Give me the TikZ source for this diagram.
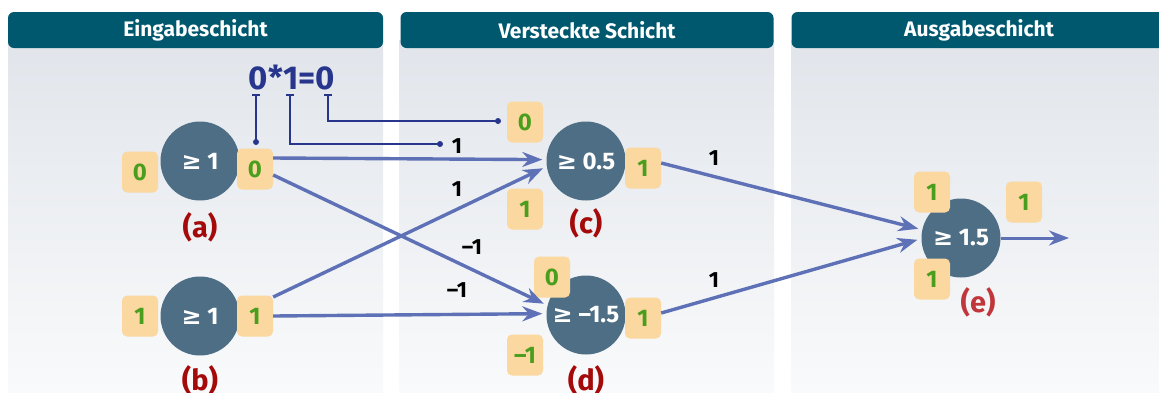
\documentclass[tikz,border=0pt]{standalone}
\usepackage{fontspec}
\setmainfont{Fira Sans}
\newfontfamily\symf{DejaVu Sans}
\usetikzlibrary{arrows.meta,calc}
\definecolor{hdr}{HTML}{00586F}
\definecolor{bgtop}{HTML}{E1E5EB}
\definecolor{bgbot}{HTML}{F9FAFB}
\definecolor{neuron}{HTML}{4E6E86}
\definecolor{valbox}{HTML}{FBD89F}
\definecolor{valtxt}{HTML}{4A9E1E}
\definecolor{wire}{HTML}{5E70B6}
\definecolor{lbl}{HTML}{A50A0A}
\definecolor{lble}{HTML}{C0363A}
\definecolor{anno}{HTML}{27368C}
\newcommand{\gteq}{{\symf ≥}}
\tikzset{
  panel/.style={top color=bgtop, bottom color=bgbot, draw=none},
  header/.style={fill=hdr, rounded corners=6pt, text=white, inner sep=0pt,
    minimum height=36pt, font=\fontsize{21}{23}\selectfont\bfseries},
  neuronc/.style={circle, fill=neuron, minimum size=79pt, inner sep=0pt, text=white,
    font=\fontsize{24}{26}\selectfont\bfseries},
  valb/.style={fill=valbox, rounded corners=5pt, minimum width=36pt, minimum height=41pt,
    inner sep=0pt, text=valtxt, font=\fontsize{24}{26}\selectfont\bfseries},
  wt/.style={text=black, font=\fontsize{22}{24}\selectfont\bfseries},
  lab/.style={text=lbl, font=\fontsize{29}{31}\selectfont\bfseries},
  labe/.style={text=lble, font=\fontsize{29}{31}\selectfont\bfseries},
  conn/.style={wire, line width=3.4pt, -{Stealth[length=20pt, width=15pt]}, shorten >=4pt},
  anno line/.style={anno, line width=1.3pt},
  anno dot/.style={circle, fill=anno, inner sep=0pt, minimum size=6pt},
}
\begin{document}
\begin{tikzpicture}[x=1pt,y=-1pt]
\useasboundingbox (0,0) rectangle (1159,392);
\fill[white] (0,0) rectangle (1159,392);
% panels
\fill[panel] (8,40) rectangle (383,392);
\fill[panel] (399,40) rectangle (774,392);
\fill[panel] (791,40) rectangle (1159,392);
\node[header, minimum width=375pt] (h1) at (195.5,30) {Eingabeschicht};
\node[header, minimum width=373pt] (h2) at (587,30) {Versteckte Schicht};
\node[header, minimum width=375pt] (h3) at (979,30) {Ausgabeschicht};

% neurons
\node[neuronc] (a) at (200,161) {\gteq\ 1};
\node[neuronc] (b) at (200,316) {\gteq\ 1};
\node[neuronc] (c) at (586,161) {\gteq\ 0.5};
\node[neuronc] (d) at (586,315) {\gteq\ –1.5};
\node[neuronc] (e) at (961,238) {\gteq\ 1.5};

% value boxes
\node[valb] (ain) at (140,172) {0};
\node[valb] (aout) at (255,169) {0};
\node[valb] (bin) at (140,316) {1};
\node[valb] (bout) at (255,316) {1};
\node[valb] (cin1) at (525,122) {0};
\node[valb] (cin2) at (525,209) {1};
\node[valb] (cout) at (643,168) {1};
\node[valb] (din1) at (552,277) {0};
\node[valb] (din2) at (525,355) {–1};
\node[valb] (dout) at (643,318) {1};
\node[valb] (ein1) at (932,192) {1};
\node[valb] (ein2) at (932,279) {1};
\node[valb] (eout) at (1024,202) {1};

% connectors
\draw[conn] ([yshift=11pt]aout.east) -- (c.178);
\draw[conn] ([yshift=-6pt]aout.east) -- (d.166);
\draw[conn] ([yshift=19pt]bout.east) -- (c.188);
\draw[conn] (bout.east) -- (d.178);
\draw[conn] ([yshift=5pt]cout.east) -- (e.168);
\draw[conn] ([yshift=5pt]dout.east) -- (e.181);
\coordinate (outend) at (1069,238);
\draw[wire, line width=3pt, -{Stealth[length=20pt, width=15pt]}] (e.east) -- (outend);

% weights
\node[wt] (w1) at (457,146) {1};
\node[wt] (w2) at (457,189) {1};
\node[wt] (w3) at (472,247) {–1};
\node[wt] (w4) at (457,290) {–1};
\node[wt] (w5) at (714,158) {1};
\node[wt] (w6) at (714,280) {1};

% labels
\node[lab] (la) at (200,227) {(a)};
\node[lab] (lb) at (200,380) {(b)};
\node[lab] (lc) at (586,223) {(c)};
\node[lab] (ld) at (586,380) {(d)};
\node[labe] (le) at (978,302) {(e)};

% annotation
\node[text=anno, font=\fontsize{33}{35}\selectfont\bfseries, inner sep=0pt] (eq) at (292,78) {0*1=0};
\coordinate (t1) at (256,95);
\coordinate (t2) at (290,95);
\coordinate (t3) at (328,95);
\node[anno dot] (d1) at (256,142) {};
\node[anno dot] (d2) at (440,144) {};
\node[anno dot] (d3) at (498,121) {};
\foreach \t in {t1,t2,t3} \draw[anno line] ($(\t)+(-4,0)$) -- ($(\t)+(4,0)$);
\draw[anno line] (t1) -- (d1.center);
\draw[anno line] (t2) |- (d2.center);
\draw[anno line] (t3) |- (d3.center);
\end{tikzpicture}
\end{document}
